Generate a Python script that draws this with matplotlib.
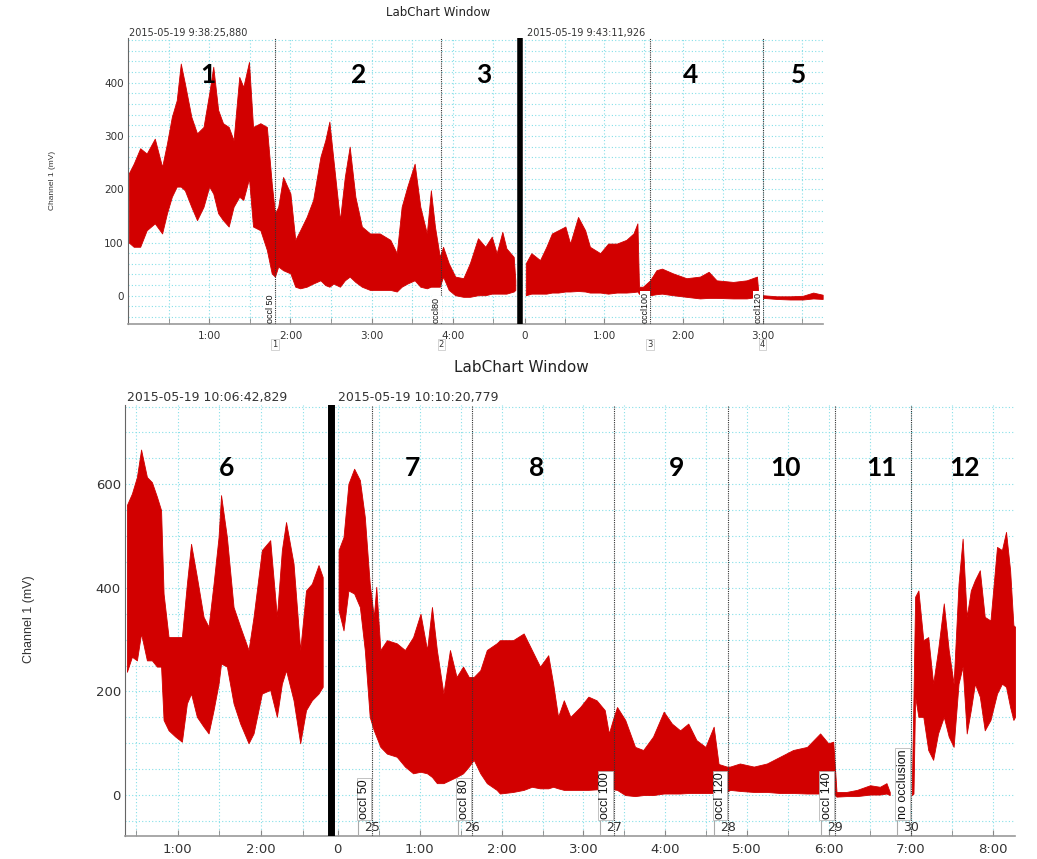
import numpy as np
import matplotlib.pyplot as plt

W, H = 1037, 859
RED = '#d20000'
GRID = '#86dfe8'
TXT = '#333333'
NARROW = ['Liberation Sans', 'DejaVu Sans']

# ---------------- top LabChart window ----------------
top_stamps = ['2015-05-19 9:38:25,880', '2015-05-19 9:43:11,926']

# block A, minutes from 9:38:25 ; upper / lower envelope of the trace (mV)
top_a_t = [0.01, 0.07, 0.15, 0.23, 0.33, 0.42, 0.48, 0.54, 0.60, 0.65,
           0.70, 0.78, 0.85, 0.93, 1.00, 1.05, 1.11, 1.17, 1.24, 1.30,
           1.37, 1.42, 1.49, 1.54, 1.63, 1.71, 1.77, 1.81,
           1.85, 1.91, 2.00, 2.06, 2.12, 2.20, 2.28, 2.37, 2.43, 2.48,
           2.53, 2.61, 2.67, 2.73, 2.80, 2.88, 2.98, 3.10, 3.23, 3.31,
           3.37, 3.44, 3.53, 3.60, 3.68, 3.73, 3.78, 3.84,
           3.88, 3.95, 4.03, 4.13, 4.21, 4.31, 4.40, 4.48, 4.54, 4.61,
           4.66, 4.75, 4.77]
top_a_hi = [230, 248, 277, 267, 295, 242, 286, 336, 367, 436,
            399, 336, 305, 317, 380, 430, 349, 324, 317, 292,
            411, 392, 439, 317, 324, 317, 211, 155,
            167, 223, 192, 105, 123, 148, 180, 261, 292, 327,
            255, 142, 223, 280, 186, 130, 117, 117, 105, 80,
            167, 205, 248, 167, 117, 198, 130, 73,
            92, 61, 36, 33, 61, 108, 92, 111, 80, 120,
            89, 73, 29]
top_a_lo = [100, 92, 92, 123, 136, 117, 155, 186, 205, 205,
            198, 167, 142, 167, 205, 192, 155, 142, 130, 167,
            186, 180, 220, 130, 123, 86, 42, 36,
            55, 48, 42, 17, 14, 17, 23, 29, 20, 17,
            23, 17, 29, 36, 26, 17, 11, 11, 11, 8,
            17, 23, 29, 17, 14, 17, 17, 17,
            36, 11, 1, -2, -2, 1, 1, 4, 4, 4,
            4, 8, 11]

# block B, minutes from 9:43:11
top_b_t = [0.01, 0.08, 0.19, 0.27, 0.34, 0.42, 0.51, 0.57, 0.67, 0.76,
           0.82, 0.95, 1.05, 1.16, 1.28, 1.37, 1.42, 1.44, 1.49, 1.58,
           1.66, 1.73, 1.87, 2.04, 2.21, 2.32, 2.42, 2.63, 2.80, 2.93,
           2.95, 3.01, 3.18, 3.35, 3.51, 3.64, 3.76]
top_b_hi = [61, 80, 67, 92, 117, 123, 130, 98, 148, 123,
            92, 80, 98, 98, 105, 117, 136, 17, 17, 29,
            48, 51, 42, 33, 36, 45, 29, 26, 29, 36,
            1, 1, -1, -1, 0, 6, 2]
top_b_lo = [1, 4, 4, 4, 6, 6, 8, 8, 9, 8,
            6, 6, 4, 6, 6, 7, 8, 4, -2, 1,
            3, 4, 1, -2, -5, -4, -4, -5, -5, -2,
            -3, -4, -6, -7, -7, -5, -6]

top_marks_a = [1.81, 3.86]
top_marks_b = [1.58, 3.00]
top_mark_text = ['occl 50', 'occl80', 'occl100', 'occl120']
top_mark_num = ['1', '2', '3', '4']
top_ticks_a = [1, 2, 3, 4]
top_ticks_b = [0, 1, 2, 3]
top_sections = ['1', '2', '3', '4', '5']
top_section_px = [208, 359, 484, 691, 799]

# ---------------- bottom LabChart window ----------------
bot_stamps = ['2015-05-19 10:06:42,829', '2015-05-19 10:10:20,779']

bot_a_t = [0.39, 0.45, 0.51, 0.56, 0.63, 0.69, 0.75, 0.80, 0.83, 0.89,
           0.97, 1.05, 1.11, 1.16, 1.23, 1.31, 1.37, 1.43, 1.49, 1.52,
           1.59, 1.67, 1.75, 1.85, 1.91, 2.01, 2.11, 2.19, 2.25, 2.30,
           2.39, 2.47, 2.54, 2.61, 2.69, 2.74]
bot_a_hi = [560, 582, 614, 667, 614, 604, 576, 550, 389, 305,
            305, 305, 408, 485, 421, 344, 325, 408, 498, 579,
            498, 363, 325, 280, 344, 473, 492, 344, 473, 527,
            447, 280, 395, 408, 444, 421]
bot_a_lo = [238, 267, 260, 312, 260, 260, 248, 248, 145, 125,
            113, 103, 177, 196, 151, 132, 119, 164, 215, 254,
            248, 177, 138, 100, 119, 196, 203, 151, 215, 241,
            183, 100, 164, 183, 196, 209]

# sections 7 .. 11 (continuous), then gap, then section 12
bot_b_t = [0.01, 0.07, 0.13, 0.20, 0.27, 0.33, 0.39, 0.44,
           0.47, 0.52, 0.60, 0.72, 0.82, 0.92, 1.01, 1.09, 1.15, 1.21,
           1.29, 1.37, 1.45, 1.53, 1.60,
           1.66, 1.74, 1.82, 1.94, 1.98, 2.14, 2.27, 2.37, 2.47, 2.57,
           2.63, 2.69, 2.76, 2.84, 2.96, 3.06, 3.16, 3.26, 3.31, 3.37,
           3.41, 3.51, 3.63, 3.73, 3.85, 3.98, 4.08, 4.18, 4.28, 4.38,
           4.49, 4.59, 4.65, 4.75,
           4.79, 4.91, 5.08, 5.24, 5.40, 5.56, 5.73, 5.89, 5.99, 6.05,
           6.09, 6.21, 6.34, 6.50, 6.62, 6.70, 6.74]
bot_b_hi = [473, 498, 601, 630, 608, 537, 408, 344,
            402, 280, 299, 293, 280, 305, 350, 280, 363, 280,
            196, 280, 228, 248, 228,
            228, 241, 280, 293, 299, 299, 312, 280, 248, 270,
            215, 151, 183, 151, 170, 190, 183, 164, 119, 151,
            170, 145, 93, 87, 113, 161, 138, 125, 138, 106,
            93, 132, 60, 55,
            55, 61, 55, 61, 74, 87, 93, 119, 100, 103,
            6, 6, 10, 19, 16, 23, 6]
bot_b_lo = [357, 318, 395, 389, 363, 280, 151, 125,
            113, 93, 80, 74, 55, 42, 45, 42, 35, 23,
            23, 29, 35, 42, 55,
            68, 42, 23, 10, 3, 6, 10, 16, 13, 13,
            16, 13, 10, 10, 10, 10, 11, 11, 11, 11,
            10, 0, -2, 0, 0, 3, 3, 3, 4, 4,
            4, 4, 4, 6,
            10, 8, 6, 6, 4, 4, 3, 3, 3, 3,
            -3, -2, -2, 1, 1, 3, 0]

bot_c_t = [7.01, 7.03, 7.05, 7.09, 7.15, 7.21, 7.27, 7.33, 7.40, 7.46,
           7.52, 7.58, 7.63, 7.68, 7.73, 7.78, 7.84, 7.90, 7.97, 8.05,
           8.11, 8.16, 8.21, 8.25, 8.27]
bot_c_hi = [16, 190, 383, 395, 299, 305, 215, 280, 370, 280,
            215, 408, 495, 344, 395, 415, 434, 344, 337, 479,
            473, 508, 434, 328, 325]
bot_c_lo = [0, 3, 190, 151, 151, 87, 68, 119, 151, 113,
            93, 215, 248, 119, 164, 215, 190, 125, 145, 196,
            215, 209, 170, 145, 151]

bot_marks_b = [0.42, 1.64, 3.37, 4.77, 6.07, 7.00]
bot_mark_text = ['occl 50', 'occl 80', 'occl 100', 'occl 120', 'occl 140', 'no occlusion']
bot_mark_num = ['25', '26', '27', '28', '29', '30']
bot_ticks_a = [1, 2]
bot_ticks_b = [0, 1, 2, 3, 4, 5, 6, 7, 8]
bot_sections = ['6', '7', '8', '9', '10', '11', '12']
bot_section_px = [227, 412, 537, 677, 786, 881, 965]


def mmss(m):
    return '0' if m == 0 else '%d:00' % m


def fx(x):
    return x / W


def fy(y):
    return 1 - y / H


fig = plt.figure(figsize=(W / 100, H / 100), dpi=100)
fig.patch.set_facecolor('white')


def setup(ax, xa, xb, ta_grid, tb_grid, hgrid, ylim, xlim, yticks, fs):
    ax.set_xlim(*xlim)
    ax.set_ylim(*ylim)
    for y in hgrid:
        ax.axhline(y, color=GRID, lw=0.8, ls=(0, (1, 2)), zorder=0)
    for t in ta_grid:
        ax.axvline(xa(t), color=GRID, lw=0.8, ls=(0, (1, 2)), zorder=0)
    for t in tb_grid:
        ax.axvline(xb(t), color=GRID, lw=0.8, ls=(0, (1, 2)), zorder=0)
    for s in ['top', 'right']:
        ax.spines[s].set_visible(False)
    ax.spines['left'].set_color('#666666')
    ax.spines['bottom'].set_color('#999999')
    ax.spines['bottom'].set_linewidth(1.2)
    ax.set_yticks(yticks)
    ax.tick_params(axis='y', length=0, labelsize=fs, pad=3, labelcolor=TXT)
    ax.tick_params(axis='x', which='both', direction='in', length=4,
                   color='#888888', labelsize=fs, pad=5, labelcolor=TXT)


# ---------------- top ----------------
ax1 = fig.add_axes([fx(128), fy(324), (823 - 128) / W, (324 - 38) / H])


def xa1(t):
    return np.asarray(t, dtype=float)


def xb1(t):
    return 4.889 + 0.975 * np.asarray(t, dtype=float)


setup(ax1, xa1, xb1, np.arange(0.5, 4.6, 0.5), np.arange(0, 3.6, 0.5),
      np.arange(-40, 481, 20), (-53, 484), (0, 8.559), [0, 100, 200, 300, 400], 7.5)

ax1.fill_between(xa1(top_a_t), top_a_lo, top_a_hi, color=RED, lw=0.6, zorder=2)
ax1.fill_between(xb1(top_b_t), top_b_lo, top_b_hi, color=RED, lw=0.6, zorder=2)
ax1.axvline(4.83, color='black', lw=4, zorder=4)

ax1.set_xticks(list(xa1(top_ticks_a)) + list(xb1(top_ticks_b)))
ax1.set_xticklabels([mmss(t) for t in top_ticks_a] + [mmss(t) for t in top_ticks_b])
ax1.set_xticks(list(xa1(np.arange(0.5, 4.6, 1.0))) + list(xb1(np.arange(0.5, 3.6, 1.0))), minor=True)

top_mark_x = list(xa1(top_marks_a)) + list(xb1(top_marks_b))
for x, lab, num in zip(top_mark_x, top_mark_text, top_mark_num):
    ax1.axvline(x, color='#333333', lw=0.8, ls=(0, (1, 1)), zorder=3)
    ax1.annotate(lab, xy=(x, 0.005), xycoords=ax1.get_xaxis_transform(),
                 xytext=(-3.5, 0), textcoords='offset points', rotation=90,
                 ha='center', va='bottom', fontsize=6.5, family=NARROW,
                 color='#111111', zorder=5,
                 bbox=dict(boxstyle='square,pad=0.05', fc='white', ec='none'))
    ax1.annotate(num, xy=(x, -0.072), xycoords=ax1.get_xaxis_transform(),
                 ha='center', va='center', fontsize=6, color='#333333',
                 annotation_clip=False,
                 bbox=dict(boxstyle='square,pad=0.15', fc='white', ec='#cccccc', lw=0.6))

fig.text(fx(438), fy(13), 'LabChart Window', ha='center', va='center', fontsize=8.5, color='#222222')
fig.text(fx(129), fy(33), top_stamps[0], ha='left', va='center', fontsize=7, color=TXT)
fig.text(fx(527), fy(33), top_stamps[1], ha='left', va='center', fontsize=7, color=TXT)
fig.text(fx(53), fy(180), 'Channel 1 (mV)', rotation=90, ha='center', va='center',
         fontsize=6, family=NARROW, color=TXT)
for s, px in zip(top_sections, top_section_px):
    fig.text(fx(px), fy(75), s, ha='center', va='center', fontsize=19,
             fontweight='bold', family='Lato', color='black')

# ---------------- bottom ----------------
ax2 = fig.add_axes([fx(125), fy(836), (1015 - 125) / W, (836 - 405) / H])


def xa2(t):
    return np.asarray(t, dtype=float)


def xb2(t):
    return 2.921 + 0.983 * np.asarray(t, dtype=float)


setup(ax2, xa2, xb2, np.arange(0.5, 2.6, 0.5), np.arange(0, 8.1, 0.5),
      np.arange(-50, 751, 50), (-79, 753), (0.367, 11.05), [0, 200, 400, 600], 9.5)

ax2.fill_between(xa2(bot_a_t), bot_a_lo, bot_a_hi, color=RED, lw=0.6, zorder=2)
ax2.fill_between(xb2(bot_b_t), bot_b_lo, bot_b_hi, color=RED, lw=0.6, zorder=2)
ax2.fill_between(xb2(bot_c_t), bot_c_lo, bot_c_hi, color=RED, lw=0.6, zorder=2)
ax2.axvline(2.837, color='black', lw=5, zorder=4)

ax2.set_xticks(list(xa2(bot_ticks_a)) + list(xb2(bot_ticks_b)))
ax2.set_xticklabels([mmss(t) for t in bot_ticks_a] + [mmss(t) for t in bot_ticks_b])
ax2.set_xticks(list(xa2([0.5, 1.5, 2.5])) + list(xb2(np.arange(0.5, 8.1, 1.0))), minor=True)

for t, lab, num in zip(bot_marks_b, bot_mark_text, bot_mark_num):
    x = float(xb2(t))
    ax2.axvline(x, color='#333333', lw=0.8, ls=(0, (1, 1)), zorder=3)
    ax2.annotate(lab, xy=(x, 0.04), xycoords=ax2.get_xaxis_transform(),
                 xytext=(-6, 0), textcoords='offset points', rotation=90,
                 ha='center', va='bottom', fontsize=9, family=NARROW,
                 color='#111111', zorder=5,
                 bbox=dict(boxstyle='square,pad=0.1', fc='white', ec='#aaaaaa', lw=0.5))
    ax2.annotate(num, xy=(x, 0.0186), xycoords=ax2.get_xaxis_transform(),
                 ha='center', va='center', fontsize=9, color='#333333', zorder=5)
    ax2.axvline(x - 0.17, ymin=0.0, ymax=0.035, color='#aaaaaa', lw=0.8, zorder=5)

fig.text(fx(521), fy(368), 'LabChart Window', ha='center', va='center', fontsize=11, color='#222222')
fig.text(fx(127), fy(398), bot_stamps[0], ha='left', va='center', fontsize=9, color=TXT)
fig.text(fx(338), fy(398), bot_stamps[1], ha='left', va='center', fontsize=9, color=TXT)
fig.text(fx(29), fy(619), 'Channel 1 (mV)', rotation=90, ha='center', va='center',
         fontsize=9, family=NARROW, color=TXT)
for s, px in zip(bot_sections, bot_section_px):
    fig.text(fx(px), fy(468), s, ha='center', va='center', fontsize=19,
             fontweight='bold', family='Lato', color='black')

fig.savefig('out.png', dpi=100)
